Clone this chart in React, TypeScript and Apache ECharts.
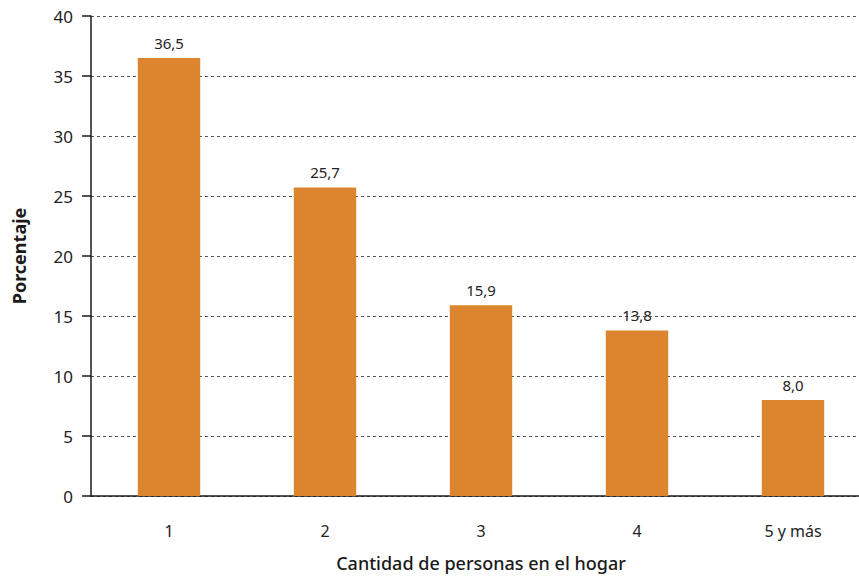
import React, { useEffect, useRef } from "react";
import * as echarts from "echarts";

const categories = ["1", "2", "3", "4", "5 y más"];
const values = [36.5, 25.7, 15.9, 13.8, 8.0];
const yTicks = { min: 0, max: 40, interval: 5 };

export default function App() {
  const ref = useRef<HTMLDivElement>(null);
  useEffect(() => {
    if (!ref.current) return;
    const chart = echarts.init(ref.current, undefined, { renderer: "svg" });
    const font = "'Noto Sans', sans-serif";
    chart.setOption({
      animation: false,
      grid: { left: 91, top: 16, height: 480, width: 780, containLabel: false, outerBoundsMode: "none" },
      xAxis: {
        type: "category",
        data: categories,
        name: "Cantidad de personas en el hogar",
        nameLocation: "middle",
        nameGap: 58,
        nameTextStyle: { fontFamily: font, fontSize: 18, fontWeight: 500, color: "#1a1a1a" },
        axisLine: { lineStyle: { color: "#1a1a1a", width: 1.5 } },
        axisTick: { show: false },
        axisLabel: { fontFamily: font, fontSize: 16, color: "#222", margin: 27 },
      },
      yAxis: {
        type: "value",
        min: yTicks.min,
        max: yTicks.max,
        interval: yTicks.interval,
        name: "Porcentaje",
        nameLocation: "middle",
        nameGap: 63,
        nameTextStyle: { fontFamily: font, fontSize: 18, fontWeight: "bold", color: "#1a1a1a" },
        axisLine: { show: true, lineStyle: { color: "#1a1a1a", width: 1.5 } },
        axisTick: { show: true, length: 9, lineStyle: { color: "#1a1a1a", width: 1.5 } },
        axisLabel: { fontFamily: font, fontSize: 17, color: "#222", margin: 18 },
        splitLine: { show: true, lineStyle: { color: "#555", type: [3, 3], width: 1 } },
      },
      series: [
        {
          type: "bar",
          data: values,
          barWidth: "40%",
          itemStyle: { color: "#DD842E" },
          label: {
            show: true,
            position: "top",
            distance: 8,
            fontFamily: font,
            fontSize: 15,
            color: "#222",
            formatter: (p: any) => p.value.toFixed(1).replace(".", ","),
          },
        },
      ],
    });
    return () => chart.dispose();
  }, []);
  return <div ref={ref} style={{ width: 859, height: 578, position: "absolute", left: 0, top: 0 }} />;
}
